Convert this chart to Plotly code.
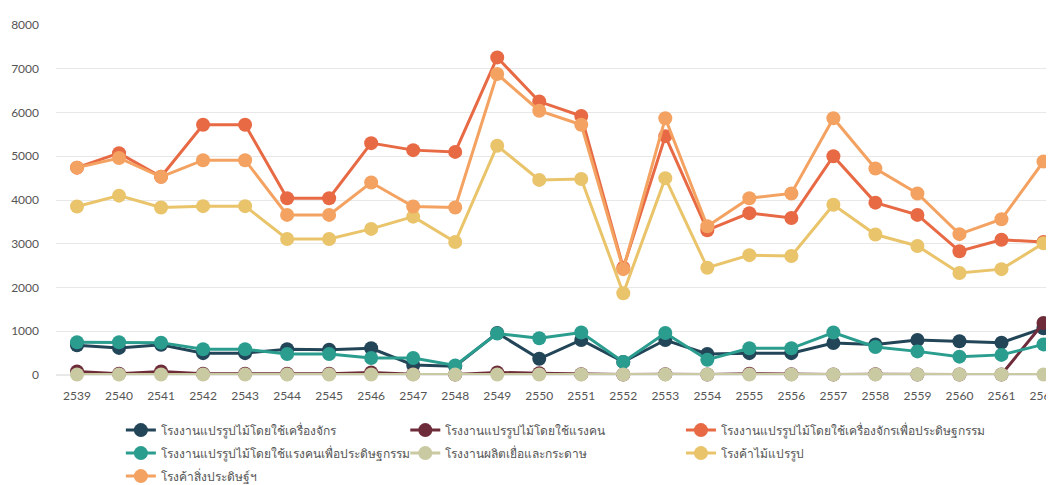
import plotly.graph_objects as go

years = [str(y) for y in range(2539, 2563)]

series_names = [
    "โรงงานแปรรูปไม้โดยใช้เครื่องจักร",
    "โรงงานแปรรูปไม้โดยใช้แรงคน",
    "โรงงานแปรรูปไม้โดยใช้เครื่องจักรเพื่อประดิษฐกรรม",
    "โรงงานแปรรูปไม้โดยใช้แรงคนเพื่อประดิษฐกรรม",
    "โรงงานผลิตเยื่อและกระดาษ",
    "โรงค้าไม้แปรรูป",
    "โรงค้าสิ่งประดิษฐ์ฯ",
]

machine = [680, 620, 690, 500, 500, 590, 580, 610, 230, 200, 960, 370, 800, 300,
           800, 480, 500, 500, 730, 700, 800, 770, 740, 1070]
manual = [80, 30, 80, 30, 30, 30, 30, 60, 20, 10, 60, 40, 20, 10,
          20, 10, 30, 20, 10, 20, 10, 10, 10, 1190]
machine_craft = [4740, 5070, 4530, 5720, 5720, 4040, 4040, 5300, 5140, 5100, 7260, 6250, 5920, 2450,
                 5460, 3310, 3700, 3590, 5000, 3940, 3660, 2830, 3090, 3040]
manual_craft = [750, 750, 740, 590, 590, 480, 480, 390, 390, 220, 950, 840, 970, 300,
                960, 350, 610, 610, 970, 640, 540, 420, 460, 700]
pulp_paper = [10, 10, 10, 10, 10, 10, 10, 10, 10, 10, 10, 10, 10, 10,
              10, 10, 10, 10, 10, 10, 10, 10, 10, 10]
lumber_trade = [3850, 4100, 3830, 3860, 3860, 3110, 3110, 3340, 3620, 3040, 5240, 4460, 4480, 1870,
                4500, 2450, 2740, 2720, 3890, 3210, 2950, 2330, 2420, 3010]
craft_trade = [4740, 4960, 4530, 4910, 4910, 3660, 3660, 4400, 3850, 3830, 6880, 6040, 5720, 2420,
               5870, 3400, 4040, 4150, 5870, 4720, 4150, 3220, 3560, 4880]

series_values = [machine, manual, machine_craft, manual_craft, pulp_paper, lumber_trade, craft_trade]
colors = ["#224558", "#6e2c3b", "#e76a45", "#2a9d8f", "#c9caa2", "#e9c46a", "#f4a261"]
# legend laid out in three columns, one plotly legend per column
legend_ids = ["legend", "legend2", "legend3", "legend", "legend2", "legend3", "legend"]

fig = go.Figure()
for name, vals, col, lg in zip(series_names, series_values, colors, legend_ids):
    fig.add_trace(go.Scatter(
        x=years, y=vals, name=name, mode="lines+markers",
        line=dict(color=col, width=3),
        marker=dict(color=col, size=14),
        cliponaxis=False,
        legend=lg, legendgroup=name,
    ))

leg_common = dict(orientation="v", xanchor="left", y=-0.116, yanchor="top",
                  tracegroupgap=4, bgcolor="rgba(0,0,0,0)",
                  font=dict(size=12, color="#555555"))

fig.update_layout(
    width=1054, height=485,
    margin=dict(l=48, r=8, t=17, b=118, autoexpand=False),
    plot_bgcolor="white", paper_bgcolor="white",
    font=dict(family="Lato, 'Noto Sans', sans-serif", size=12, color="#555555"),
    xaxis=dict(type="category", range=[-0.5, 23.25], showgrid=False,
               showline=False, ticks="", ticklabelstandoff=12,
               tickfont=dict(size=12, color="#555555")),
    yaxis=dict(range=[0, 8000], dtick=1000, gridcolor="#e8e8e8", zeroline=True,
               zerolinecolor="#e8e8e8", showline=False, ticks="", ticklabelstandoff=16,
               tickfont=dict(size=12, color="#555555")),
    showlegend=True,
    legend=dict(x=0.065, **leg_common),
    legend2=dict(x=0.35, **leg_common),
    legend3=dict(x=0.6262, **leg_common),
)

fig.write_html("out.html")
